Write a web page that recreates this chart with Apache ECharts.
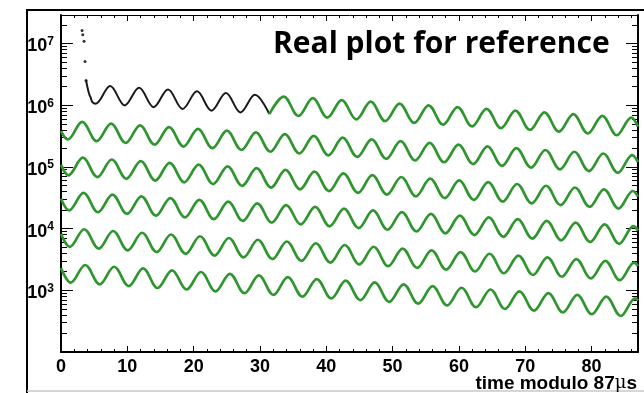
<!DOCTYPE html>
<html><head><meta charset="utf-8">
<script src="https://cdn.jsdelivr.net/npm/echarts@6/dist/echarts.min.js"></script>
<style>html,body{margin:0;padding:0;background:#fff}#c{width:644px;height:393px}</style>
</head><body><div id="c"></div>
<script>
const FONT = 'Liberation Sans';
const titleText = 'Real plot for reference';
const xAxisTitle = 'time modulo 87';
const xAxisMu = 'μ';
const xAxisS = 's';
const labelledExponents = [3, 4, 5, 6, 7];
const xMajorTicks = [0, 10, 20, 30, 40, 50, 60, 70, 80];
const xMinorTicks = [2, 4, 6, 8, 12, 14, 16, 18, 22, 24, 26, 28, 32, 34, 36, 38, 42, 44, 46, 48, 52, 54, 56, 58, 62, 64, 66, 68, 72, 74, 76, 78, 82, 84, 86];
const yMajorTicks = [1e2, 1e3, 1e4, 1e5, 1e6, 1e7];
const yMinorMultipliers = [2, 3, 4, 5, 6, 7, 8, 9];

// early black data points (steep drop)
const blackDotsT = [3.18, 3.28, 3.48, 3.63, 3.78];
const blackDotsV = [1.62e7, 1.39e7, 1.09e7, 5.1e6, 2.51e6];
// black data (first row, before fit start)
const blackT = [3.78, 3.98, 4.13, 4.28, 4.49, 4.73, 5.23, 7.41, 9.60, 11.78, 13.96, 16.14, 18.33, 20.51, 22.69, 24.87, 27.06, 29.24, 31.42];
const blackV = [2.51e6, 1.97e6, 1.69e6, 1.49e6, 1.32e6, 1.12e6, 1.06e6, 2.05e6, 9.94e5, 1.92e6, 9.31e5, 1.80e6, 8.72e5, 1.68e6, 8.17e5, 1.58e6, 7.65e5, 1.48e6, 7.17e5];

// green rows (wiggle extrema)
const row1T = [31.42, 33.60, 35.79, 37.97, 40.15, 42.33, 44.52, 46.70, 48.88, 51.06, 53.25, 55.43, 57.61, 59.79, 61.98, 64.16, 66.34, 68.52, 70.71, 72.89, 75.07, 77.25, 79.44, 81.62, 83.80, 85.98, 87];
const row1V = [7.17e5, 1.38e6, 6.71e5, 1.30e6, 6.29e5, 1.21e6, 5.89e5, 1.14e6, 5.51e5, 1.06e6, 5.16e5, 9.97e5, 4.84e5, 9.34e5, 4.53e5, 8.74e5, 4.24e5, 8.19e5, 3.97e5, 7.67e5, 3.72e5, 7.18e5, 3.48e5, 6.73e5, 3.26e5, 6.30e5, 4.5e5];

const row2T = [0, 1.02, 3.20, 5.38, 7.56, 9.75, 11.93, 14.11, 16.29, 18.48, 20.66, 22.84, 25.02, 27.21, 29.39, 31.57, 33.75, 35.94, 38.12, 40.30, 42.48, 44.67, 46.85, 49.03, 51.21, 53.40, 55.58, 57.76, 59.94, 62.13, 64.31, 66.49, 68.67, 70.86, 73.04, 75.22, 77.40, 79.59, 81.77, 83.95, 86.13, 87];
const row2V = [3.8e5, 2.78e5, 5.37e5, 2.61e5, 5.03e5, 2.44e5, 4.71e5, 2.29e5, 4.41e5, 2.14e5, 4.13e5, 2.01e5, 3.87e5, 1.88e5, 3.63e5, 1.76e5, 3.40e5, 1.65e5, 3.18e5, 1.54e5, 2.98e5, 1.45e5, 2.79e5, 1.35e5, 2.61e5, 1.27e5, 2.45e5, 1.19e5, 2.29e5, 1.11e5, 2.15e5, 1.04e5, 2.01e5, 9.75e4, 1.88e5, 9.13e4, 1.76e5, 8.55e4, 1.65e5, 8.01e4, 1.55e5, 1.2e5];

const row3T = [0, 1.12, 3.30, 5.48, 7.66, 9.85, 12.03, 14.21, 16.39, 18.58, 20.76, 22.94, 25.12, 27.31, 29.49, 31.67, 33.85, 36.04, 38.22, 40.40, 42.58, 44.77, 46.95, 49.13, 51.31, 53.50, 55.68, 57.86, 60.04, 62.23, 64.41, 66.59, 68.77, 70.96, 73.14, 75.32, 77.50, 79.69, 81.87, 84.05, 86.23, 87];
const row3V = [1.08e5, 7.32e4, 1.41e5, 6.85e4, 1.32e5, 6.42e4, 1.24e5, 6.01e4, 1.16e5, 5.63e4, 1.09e5, 5.28e4, 1.02e5, 4.94e4, 9.54e4, 4.63e4, 8.93e4, 4.33e4, 8.37e4, 4.06e4, 7.83e4, 3.80e4, 7.34e4, 3.56e4, 6.87e4, 3.33e4, 6.44e4, 3.12e4, 6.03e4, 2.92e4, 5.65e4, 2.74e4, 5.29e4, 2.57e4, 4.95e4, 2.40e4, 4.64e4, 2.25e4, 4.34e4, 2.11e4, 4.07e4, 3.3e4];

const row4T = [0, 1.22, 3.40, 5.58, 7.76, 9.95, 12.13, 14.31, 16.49, 18.68, 20.86, 23.04, 25.22, 27.41, 29.59, 31.77, 33.95, 36.14, 38.32, 40.50, 42.68, 44.87, 47.05, 49.23, 51.41, 53.60, 55.78, 57.96, 60.14, 62.33, 64.51, 66.69, 68.87, 71.06, 73.24, 75.42, 77.60, 79.79, 81.97, 84.15, 86.33, 87];
const row4V = [3.04e4, 1.97e4, 3.80e4, 1.84e4, 3.56e4, 1.73e4, 3.34e4, 1.62e4, 3.13e4, 1.52e4, 2.93e4, 1.42e4, 2.74e4, 1.33e4, 2.57e4, 1.25e4, 2.40e4, 1.17e4, 2.25e4, 1.09e4, 2.11e4, 1.02e4, 1.97e4, 9.58e3, 1.85e4, 8.97e3, 1.73e4, 8.40e3, 1.62e4, 7.87e3, 1.52e4, 7.37e3, 1.42e4, 6.90e3, 1.33e4, 6.47e3, 1.25e4, 6.06e3, 1.17e4, 5.67e3, 1.10e4, 9.3e3];

const row5T = [0, 1.32, 3.50, 5.68, 7.86, 10.05, 12.23, 14.41, 16.59, 18.78, 20.96, 23.14, 25.32, 27.51, 29.69, 31.87, 34.05, 36.24, 38.42, 40.60, 42.78, 44.97, 47.15, 49.33, 51.51, 53.70, 55.88, 58.06, 60.24, 62.43, 64.61, 66.79, 68.97, 71.16, 73.34, 75.52, 77.70, 79.89, 82.07, 84.25, 86.43, 87];
const row5V = [8.2e3, 5.07e3, 9.77e3, 4.74e3, 9.15e3, 4.44e3, 8.57e3, 4.16e3, 8.03e3, 3.90e3, 7.52e3, 3.65e3, 7.04e3, 3.42e3, 6.60e3, 3.20e3, 6.18e3, 3.00e3, 5.79e3, 2.81e3, 5.42e3, 2.63e3, 5.08e3, 2.46e3, 4.75e3, 2.31e3, 4.45e3, 2.16e3, 4.17e3, 2.02e3, 3.91e3, 1.89e3, 3.66e3, 1.77e3, 3.43e3, 1.66e3, 3.21e3, 1.56e3, 3.01e3, 1.46e3, 2.82e3, 2.48e3];

const row6T = [0, 1.47, 3.65, 5.83, 8.01, 10.20, 12.38, 14.56, 16.74, 18.93, 21.11, 23.29, 25.47, 27.66, 29.84, 32.02, 34.20, 36.39, 38.57, 40.75, 42.93, 45.12, 47.30, 49.48, 51.66, 53.85, 56.03, 58.21, 60.39, 62.58, 64.76, 66.94, 69.12, 71.31, 73.49, 75.67, 77.85, 80.04, 82.22, 84.40, 86.58, 87];
const row6V = [2.29e3, 1.33e3, 2.57e3, 1.25e3, 2.41e3, 1.17e3, 2.26e3, 1.09e3, 2.11e3, 1.03e3, 1.98e3, 960, 1.85e3, 899, 1.74e3, 842, 1.63e3, 788, 1.52e3, 738, 1.43e3, 692, 1.34e3, 648, 1.25e3, 607, 1.17e3, 568, 1.10e3, 532, 1.03e3, 498, 962, 467, 901, 437, 844, 409, 790, 383, 740, 687];

const pairs = (T, V) => T.map((t, i) => [t, V[i]]);
const GREEN = '#2f962f';
const greenRows = [[row1T, row1V], [row2T, row2V], [row3T, row3V], [row4T, row4V], [row5T, row5V], [row6T, row6V]];
const yMinorTicks = [];
yMajorTicks.forEach(function (d) { yMinorMultipliers.forEach(function (m) { if (d * m < 2.9e7) yMinorTicks.push(d * m); }); });

const chart = echarts.init(document.getElementById('c'), null, { renderer: 'canvas' });

const yLabelFmt = function (v) {
  const e = Math.round(Math.log10(v));
  if (Math.abs(v / Math.pow(10, e) - 1) > 1e-6) return '';
  if (labelledExponents.indexOf(e) < 0) return '';
  return '{b|10}{s|' + e + '}';
};

const tickStyle = { color: '#000', width: 1 };
function yAx(pos, major, showLine, showLabel) {
  const ax = {
    type: 'log', logBase: 10, min: 100, max: 2.9e7, position: pos,
    axisLine: { show: showLine, onZero: false, lineStyle: { color: '#000', width: 2 } },
    axisTick: { show: true, inside: true, length: major ? 12 : 6, lineStyle: tickStyle, customValues: major ? yMajorTicks : yMinorTicks },
    minorTick: { show: false },
    splitLine: { show: false },
    axisLabel: { show: false }
  };
  if (showLabel) {
    ax.axisLabel = {
      show: true, margin: 7, formatter: yLabelFmt, padding: [6, 0, 0, 0],
      showMinLabel: false, showMaxLabel: false,
      rich: {
        b: { fontFamily: FONT, fontWeight: 'bold', fontSize: 18, color: '#000', lineHeight: 22, verticalAlign: 'middle' },
        s: { fontFamily: FONT, fontWeight: 'bold', fontSize: 12, color: '#000', lineHeight: 12, verticalAlign: 'top' }
      }
    };
  }
  return ax;
}
function xAx(pos, major, lineW, showLabel) {
  const ax = {
    type: 'value', min: 0, max: 87, interval: 10, position: pos,
    axisLine: { show: lineW > 0, onZero: false, lineStyle: { color: '#000', width: lineW || 1 } },
    axisTick: { show: true, inside: true, length: major ? 6 : 3, lineStyle: tickStyle, customValues: major ? xMajorTicks : xMinorTicks },
    minorTick: { show: false },
    splitLine: { show: false },
    axisLabel: { show: false }
  };
  if (showLabel) {
    ax.axisLabel = { show: true, color: '#000', fontFamily: FONT, fontWeight: 'bold', fontSize: 18, margin: 6, showMaxLabel: false };
  }
  return ax;
}

const series = [];
series.push({
  type: 'line', xAxisIndex: 0, yAxisIndex: 0,
  data: pairs(blackT, blackV), smooth: 0.36, showSymbol: false, symbol: 'none',
  lineStyle: { color: '#1a1a1a', width: 2 }, z: 3, animation: false
});
series.push({
  type: 'scatter', xAxisIndex: 0, yAxisIndex: 0,
  data: pairs(blackDotsT, blackDotsV), symbol: 'circle', symbolSize: 3,
  itemStyle: { color: '#000' }, z: 3, animation: false
});
greenRows.forEach(function (r) {
  series.push({
    type: 'line', xAxisIndex: 0, yAxisIndex: 0,
    data: pairs(r[0], r[1]), smooth: 0.36, showSymbol: false, symbol: 'none',
    lineStyle: { color: GREEN, width: 2.7 }, z: 4, animation: false
  });
});

chart.setOption({
  animation: false,
  backgroundColor: '#fff',
  title: {
    text: titleText, left: 273, top: 26, padding: 0,
    textStyle: { fontFamily: 'Open Sans', fontWeight: 'bold', fontSize: 30, lineHeight: 36, color: '#000' }
  },
  grid: { left: 61, right: 6, top: 15, bottom: 41, containLabel: false, outerBoundsMode: 'none' },
  xAxis: [
    xAx('bottom', true, 2, true),
    xAx('bottom', false, 0, false),
    xAx('top', true, 1, false),
    xAx('top', false, 0, false)
  ],
  yAxis: [
    yAx('left', true, true, true),
    yAx('left', false, false, false),
    yAx('right', true, true, false),
    yAx('right', false, false, false)
  ],
  graphic: [
    { type: 'line', shape: { x1: 26, y1: 10, x2: 644, y2: 10 }, style: { stroke: '#000', lineWidth: 2 }, z: 100 },
    { type: 'line', shape: { x1: 27, y1: 9, x2: 27, y2: 393 }, style: { stroke: '#000', lineWidth: 2 }, z: 100 },
    { type: 'line', shape: { x1: 27, y1: 391, x2: 644, y2: 391 }, style: { stroke: '#c8c8c8', lineWidth: 1.5 }, z: 100 },
    {
      type: 'text', x: 637, y: 374, z: 100,
      style: {
        text: xAxisTitle + '{m|' + xAxisMu + '}' + xAxisS, align: 'right', verticalAlign: 'top',
        fontFamily: FONT, fontWeight: 'bold', fontSize: 19, fill: '#000',
        rich: { m: { fontFamily: 'DejaVu Serif', fontWeight: 'normal', fontSize: 18, fill: '#000' } }
      }
    }
  ],
  series: series
});
</script>
</body></html>
